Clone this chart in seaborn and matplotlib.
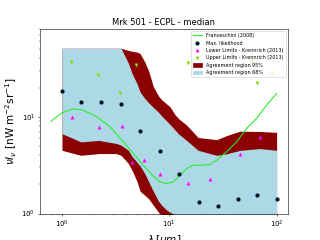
import numpy as np
import pandas as pd
import matplotlib
matplotlib.use('Agg')
import matplotlib.pyplot as plt
import seaborn as sns
from matplotlib.patches import Patch
from matplotlib.lines import Line2D

# Franceschini (2008) EBL model
fr_wl = [0.79, 1.0, 1.275, 1.58, 2.1, 2.8, 3.73, 4.62, 5.72, 7.1, 8.2, 9.44,
         10.9, 12.6, 14.5, 16.7, 20.7, 23.9, 27.6, 34.2, 42.4, 52.5, 65.1, 80.7, 100.0]
fr_nuinu = [9.0, 11.0, 12.1, 11.7, 10.0, 7.9, 5.5, 4.18, 3.16, 2.43, 2.13, 2.04,
            2.13, 2.49, 2.92, 3.16, 3.16, 3.21, 3.56, 4.34, 5.5, 7.57, 9.6, 13.2, 17.4]

# max likelihood points
ml_wl = [1.0, 1.51, 2.31, 3.52, 5.33, 8.13, 12.3, 18.8, 28.4, 43.3, 65.6, 100.0]
ml_nuinu = [18.6, 14.3, 14.2, 13.4, 7.05, 4.38, 2.55, 1.32, 1.19, 1.41, 1.57, 1.41]

# Krennrich (2013) limits
low_wl = [1.25, 2.2, 3.62, 4.52, 5.77, 8.19, 15.1, 24.1, 45.2, 70.0]
low_nuinu = [10.0, 7.82, 8.07, 3.42, 3.59, 2.57, 2.08, 2.28, 4.11, 6.16]
up_wl = [1.22, 2.15, 3.44, 4.86, 15.0, 59.3, 65.6, 89.8]
up_nuinu = [36.8, 26.8, 17.6, 34.5, 35.6, 37.7, 22.5, 27.9]

# agreement regions
band_wl = [1.0, 1.5, 2.2, 3.2, 3.55, 4.15, 4.5, 5.0, 5.35, 5.9, 6.4, 7.1, 7.9,
           8.5, 9.5, 10.2, 11.3, 12.3, 14.5, 18.6, 27.7, 34.3, 45.6, 70.0, 100.0]
up95 = [51, 51, 51, 51, 51, 48.5, 47.5, 46.5, 45, 37, 30, 20.5, 16.5,
        15, 13.5, 12.6, 10.5, 9.5, 8.2, 6.1, 5.8, 6.4, 7.1, 7.05, 6.9]
up68 = [51, 51, 51, 51, 51, 36, 28, 22, 18, 15.5, 14, 12.5, 11.2,
        10.2, 9.0, 8.3, 7.3, 6.6, 5.7, 4.5, 4.0, 4.15, 4.5, 4.7, 4.5]
lo68 = [6.7, 5.5, 5.7, 5.3, 5.1, 4.5, 3.9, 3.4, 3.1, 2.6, 2.15, 1.7, 1.35,
        1.22, 1.08, 1.03, 0.97, 0.9, 0.8, 0.7, 0.7, 0.7, 0.7, 0.7, 0.7]
lo95 = [4.5, 4.0, 4.17, 4.17, 4.0, 3.3, 2.8, 2.15, 1.7, 1.55, 1.43, 1.22, 1.04,
        0.95, 0.85, 0.8, 0.7, 0.6, 0.5, 0.5, 0.5, 0.5, 0.5, 0.5, 0.5]

fig, ax = plt.subplots(figsize=(6.4, 4.8), dpi=50)

ax.fill_between(band_wl, lo95, up95, color='darkred', lw=0)
ax.fill_between(band_wl, lo68, up68, color='lightblue', lw=0)

sns.lineplot(x=fr_wl, y=fr_nuinu, color='#22ee22', lw=1.5, ax=ax)
sns.scatterplot(x=ml_wl, y=ml_nuinu, color='black', edgecolor='tab:blue',
                linewidth=0.6, s=32, marker='o', zorder=5, ax=ax)
sns.scatterplot(x=low_wl, y=low_nuinu, color='magenta', linewidth=0,
                s=32, marker='^', zorder=5, ax=ax)
sns.scatterplot(x=up_wl, y=up_nuinu, color='#7fe000', linewidth=0,
                s=32, marker='v', zorder=5, ax=ax)

ax.set_xscale('log')
ax.set_yscale('log')
ax.set_xlim(0.624, 127.7)
ax.set_ylim(1, 81)

handles = [
    Line2D([], [], color='#22ee22', lw=1.5),
    Line2D([], [], ls='', marker='o', color='black', mec='tab:blue', mew=0.6, ms=5.5),
    Line2D([], [], ls='', marker='^', color='magenta', mew=0, ms=5.5),
    Line2D([], [], ls='', marker='v', color='#7fe000', mew=0, ms=5.5),
    Patch(color='darkred'),
    Patch(color='lightblue'),
]
labels = ['Franceschini (2008)', 'Max. likelihood', 'Lower Limits - Krennrich (2013)',
          'Upper Limits - Krennrich (2013)', 'Agreement region 95%', 'Agreement region 68%']
ax.legend(handles, labels, loc='upper right', fontsize=7)

ax.set_title('Mrk 501 - ECPL - median')
ax.set_xlabel(r'$\lambda\, [\mu m]$', fontsize=15)
ax.set_ylabel(r'$\nu I_\nu$ [nW m$^{-2}$sr$^{-1}$]', fontsize=15)

plt.savefig('out.png', dpi=50)
